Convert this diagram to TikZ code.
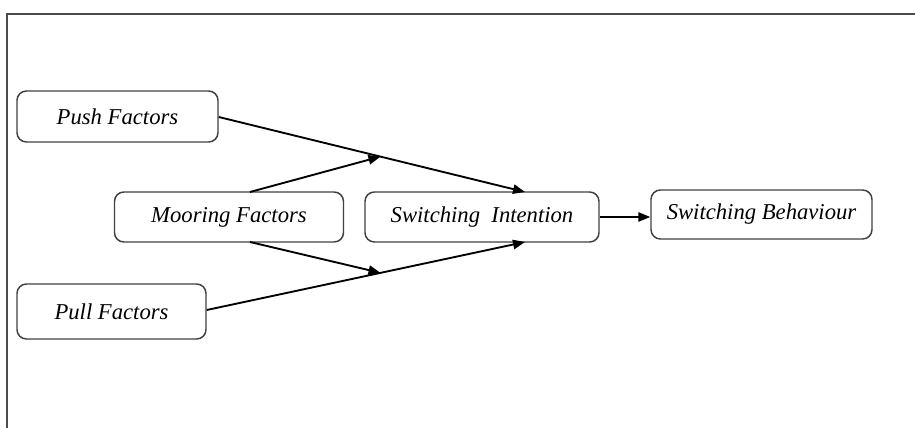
\documentclass[tikz,border=0pt]{standalone}
\usepackage{fontspec}
\setmainfont{Liberation Serif}
\usetikzlibrary{arrows.meta}
\begin{document}
\begin{tikzpicture}[x=0.75pt,y=-0.75pt,
  box/.style={draw=black!75, line width=1.1pt, rounded corners=7pt, inner sep=0pt, font=\fontsize{17}{20}\selectfont\itshape},
  arr/.style={line width=1.4pt, -{Triangle[length=9pt,width=7pt]}},
  ln/.style={line width=1.4pt}]
\useasboundingbox (0,0) rectangle (915,428);
\draw[line width=1.5pt, black!70] (7,428) -- (7,14) -- (915,14);
\node[box, minimum width=201*0.75pt, minimum height=51*0.75pt] (push) at (117.5,116.5) {Push Factors};
\node[box, minimum width=229*0.75pt, minimum height=50*0.75pt] (moor) at (229,217) {Mooring Factors};
\node[box, minimum width=234*0.75pt, minimum height=50*0.75pt] (si) at (482,217) {Switching~ Intention};
\node[box, minimum width=221*0.75pt, minimum height=49*0.75pt] (sb) at (761.5,214.5) {Switching Behaviour};
\node[box, minimum width=189*0.75pt, minimum height=55*0.75pt] (pull) at (111.5,311.5) {Pull Factors};
\coordinate (sitop) at (525,192);
\coordinate (sibot) at (525,242);
\coordinate (mtop) at (250,192);
\coordinate (mbot) at (250,242);
\draw[arr] (push.east |- 0,117) -- (sitop);
\draw[arr] (pull.east |- 0,310) -- (sibot);
\path (push.east |- 0,117) -- (sitop) coordinate[pos=0.528] (m1);
\path (pull.east |- 0,310) -- (sibot) coordinate[pos=0.546] (m2);
\draw[arr] (mtop) -- (m1);
\draw[arr] (mbot) -- (m2);
\draw[arr] (si.east) -- (sb.west |- si.east);
\end{tikzpicture}
\end{document}
